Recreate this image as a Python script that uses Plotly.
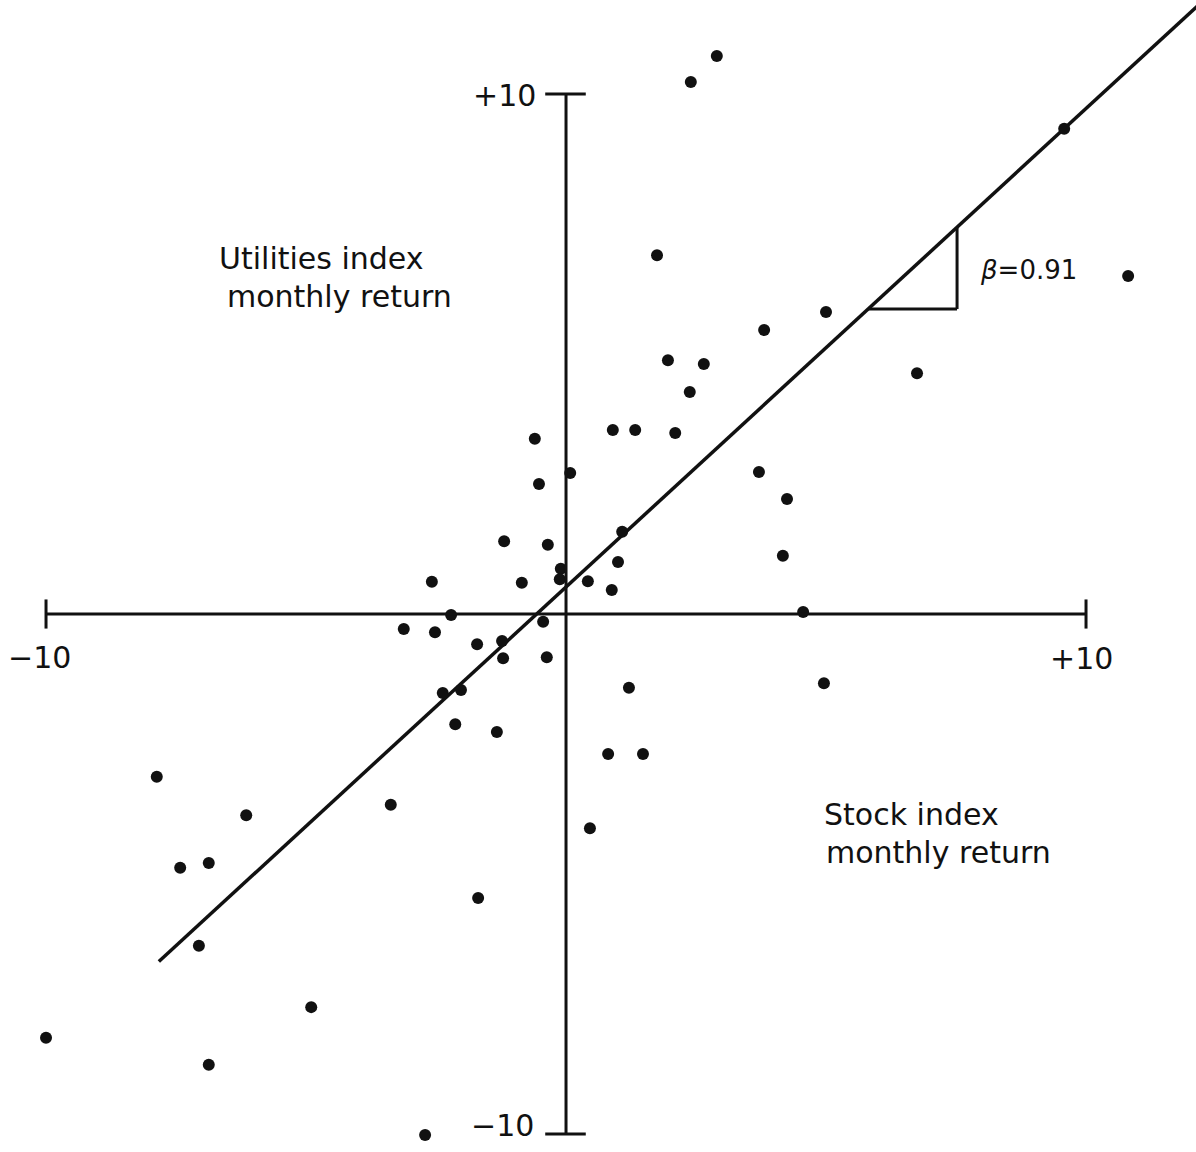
import plotly.graph_objects as go

# Monthly returns (%): stock index (x) vs utilities index (y)
stock_ret = [2.90, 2.40, 9.58, 1.75, 10.81, 5.00, 3.81, 1.96, 2.65, 6.75,
             2.38, 0.90, 1.33, 2.10, -0.60, 0.08, 3.71, -0.52, 4.25, 1.08,
             -1.19, -0.35, 4.17, 1.00, -0.10, -0.12, 0.42, -0.85, -2.58, 0.88,
             4.56, -2.21, -0.44, -3.12, -2.52, -1.71, -1.23, -1.21, -0.37, 1.21,
             4.96, -2.37, -2.02, -2.13, -1.33, 0.81, 1.48, -7.87, -3.37, -6.15,
             0.46, -7.42, -6.87, -1.69, -7.06, -4.90, -10.00, -6.87, -2.71]
util_ret = [10.73, 10.23, 9.33, 6.90, 6.50, 5.81, 5.46, 4.88, 4.81, 4.63,
            4.27, 3.54, 3.54, 3.48, 3.37, 2.71, 2.73, 2.50, 2.21, 1.58,
            1.40, 1.33, 1.12, 1.00, 0.87, 0.67, 0.63, 0.60, 0.62, 0.46,
            0.04, -0.02, -0.15, -0.29, -0.35, -0.58, -0.52, -0.85, -0.83, -1.42,
            -1.33, -1.52, -1.46, -2.12, -2.27, -2.69, -2.69, -3.13, -3.67, -3.87,
            -4.12, -4.88, -4.79, -5.46, -6.38, -7.56, -8.15, -8.67, -10.02]

# Fitted line
beta = 0.92
alpha = 0.52
line_x = [-7.83, 12.4]
tri_x = [5.81, 7.52]
axis_limits = [-10, 10]
tick_labels = ["+10", "\u221210", "\u221210", "+10"]

FONT = "DejaVu Sans"
INK = "#111111"

line_y = [alpha + beta * v for v in line_x]
tri_y = [alpha + beta * v for v in tri_x]

fig = go.Figure()

fig.add_trace(go.Scatter(
    x=line_x, y=line_y, mode="lines",
    line=dict(color=INK, width=3.5), hoverinfo="skip", showlegend=False))

fig.add_trace(go.Scatter(
    x=stock_ret, y=util_ret, mode="markers",
    marker=dict(size=12, color=INK), showlegend=False,
    hovertemplate="Stock %{x:.2f}<br>Utilities %{y:.2f}<extra></extra>"))

shapes = []
lo, hi = axis_limits
# axes
shapes.append(dict(type="line", x0=lo, x1=hi, y0=0, y1=0, line=dict(color=INK, width=3)))
shapes.append(dict(type="line", x0=0, x1=0, y0=lo, y1=hi, line=dict(color=INK, width=3)))
# end ticks
for v in axis_limits:
    shapes.append(dict(type="line", x0=v, x1=v, y0=-0.28, y1=0.28, line=dict(color=INK, width=3)))
    shapes.append(dict(type="line", x0=-0.4, x1=0.38, y0=v, y1=v, line=dict(color=INK, width=3)))
# slope triangle
shapes.append(dict(type="line", x0=tri_x[0], x1=tri_x[1], y0=tri_y[0], y1=tri_y[0],
                   line=dict(color=INK, width=3)))
shapes.append(dict(type="line", x0=tri_x[1], x1=tri_x[1], y0=tri_y[0], y1=tri_y[1],
                   line=dict(color=INK, width=3)))

def ann(text, x, y, xanchor="center", size=30):
    return dict(text=text, x=x, y=y, xref="x", yref="y", showarrow=False,
                xanchor=xanchor, yanchor="middle", borderpad=0,
                font=dict(family=FONT, size=size, color=INK))

annotations = [
    ann("Utilities index", -6.69, 6.83, "left"),
    ann("monthly return", -6.54, 6.10, "left"),
    ann("Stock index", 4.94, -3.86, "left"),
    ann("monthly return", 4.98, -4.58, "left"),
    ann("<i>β</i>=0.91", 8.90, 6.62, "center", 26),
    ann(tick_labels[0], -0.56, 9.98, "right"),
    ann(tick_labels[1], -0.60, -9.83, "right"),
    ann(tick_labels[2], -10.12, -0.83, "center"),
    ann(tick_labels[3], 9.92, -0.85, "center"),
]

fig.update_layout(
    width=1196, height=1152,
    margin=dict(l=0, r=0, t=0, b=0),
    paper_bgcolor="white", plot_bgcolor="white",
    xaxis=dict(range=[-10.885, 12.115], visible=False, fixedrange=True),
    yaxis=dict(range=[-10.346, 11.808], visible=False, fixedrange=True),
    shapes=shapes, annotations=annotations,
    showlegend=False,
)

fig.write_html("out.html")
